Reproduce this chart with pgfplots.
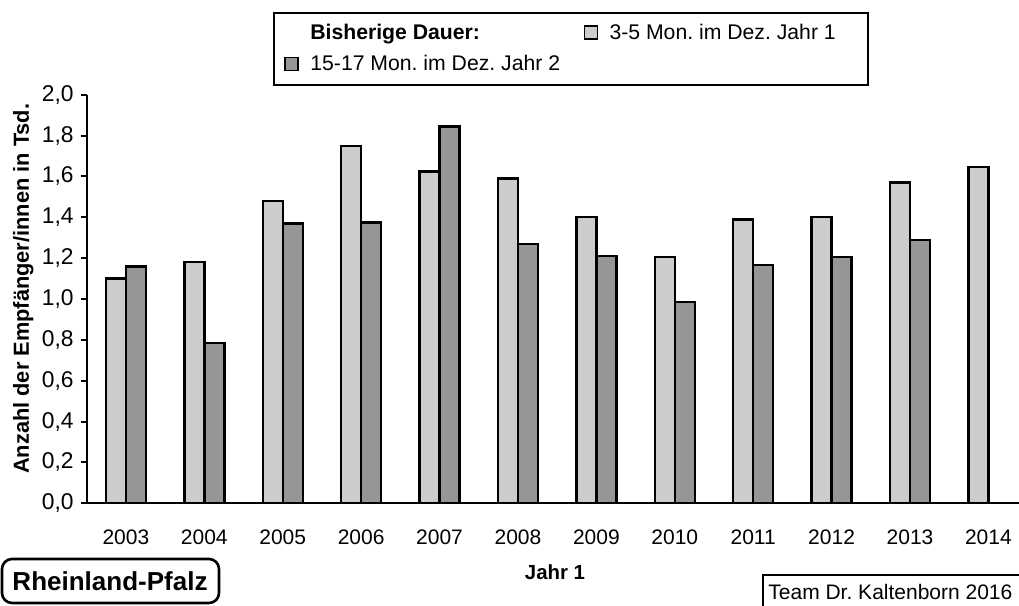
\documentclass[border=0pt]{standalone}
\usepackage{fontspec}
\setmainfont{Liberation Sans}
\usepackage{pgfplots}
\pgfplotsset{compat=1.18}
\definecolor{lightbar}{HTML}{CCCCCC}
\definecolor{darkbar}{HTML}{969696}
\frenchspacing
\begin{document}
\frenchspacing
\begin{tikzpicture}
\useasboundingbox (0,0) rectangle (509.5pt,303pt);
\begin{axis}[
  at={(43.35pt,51.35pt)}, anchor=south west,
  scale only axis, width=466.15pt, height=204.3pt,
  xmin=-0.5, xmax=11.39, ymin=0, ymax=2,
  axis x line=bottom, axis y line=left,
  axis line style={-, line width=1pt},
  ybar=0pt, bar width=10pt,
  xtick={0,1,2,3,4,5,6,7,8,9,10,11},
  xticklabels={2003,2004,2005,2006,2007,2008,2009,2010,2011,2012,2013,2014},
  major x tick style={draw=none},
  ytick={0,0.2,0.4,0.6,0.8,1,1.2,1.4,1.6,1.8,2},
  tick align=outside, major tick length=3pt,
  y tick style={line width=1pt, black},
  /pgf/number format/assume math mode=true,
  yticklabel style={/pgf/number format/fixed, /pgf/number format/fixed zerofill,
    /pgf/number format/precision=1, /pgf/number format/use comma, anchor=east,
    font=\fontsize{11.4}{13}\selectfont},
  xticklabel style={anchor=center, yshift=-13.85pt, font=\fontsize{10.5}{12}\selectfont},
  xlabel={\textbf{Jahr 1}},
  xlabel style={at={(0.5023,-0.1681)}, anchor=center, font=\fontsize{10.2}{12}\selectfont},
  ylabel={\textbf{Anzahl der Empfänger/innen in Tsd.}},
  ylabel style={at={(-0.068,0.525)}, anchor=center, font=\fontsize{10.9}{13}\selectfont},
  legend columns=2,
  legend cell align=left,
  legend style={at={(0.1998,1.2024)}, anchor=north west, draw=black, line width=1pt,
    font=\fontsize{10.6}{12}\selectfont, inner xsep=5pt, inner ysep=3.5pt, row sep=2.5pt,
    /tikz/every even column/.append style={column sep=9.5pt}},
  legend image code/.code={\draw[#1, line width=0.8pt] (0pt,-3pt) rectangle (6.5pt,3.5pt); \path (0pt,0pt) (10pt,0pt);},
]
\addlegendimage{draw=white, fill=white}
\addlegendentry{\bfseries Bisherige Dauer:}
\addplot[fill=lightbar, draw=black, line width=1.2pt] coordinates {
 (0,1.10) (1,1.18) (2,1.48) (3,1.75) (4,1.625) (5,1.59) (6,1.40) (7,1.205) (8,1.39) (9,1.40) (10,1.57) (11,1.645)};
\addlegendentry{3-5 Mon. im Dez. Jahr 1\hspace*{9pt}}
\addplot[fill=darkbar, draw=black, line width=1.2pt] coordinates {
 (0,1.16) (1,0.785) (2,1.37) (3,1.375) (4,1.845) (5,1.27) (6,1.21) (7,0.985) (8,1.165) (9,1.205) (10,1.29)};
\addlegendentry{15-17 Mon. im Dez. Jahr 2}
\end{axis}
\draw[line width=1.3pt, rounded corners=5pt] (1pt,1.5pt) rectangle (109.5pt,23.5pt);
\node[font=\fontsize{13}{15}\selectfont\bfseries] at (55pt,12.5pt) {Rheinland-Pfalz};
\draw[line width=0.6pt] (381.5pt,15.5pt) rectangle (520pt,-5pt);
\node[anchor=west, inner sep=0pt, font=\fontsize{10.5}{12}\selectfont] at (384pt,7pt) {Team Dr. Kaltenborn 2016};
\end{tikzpicture}
\end{document}
